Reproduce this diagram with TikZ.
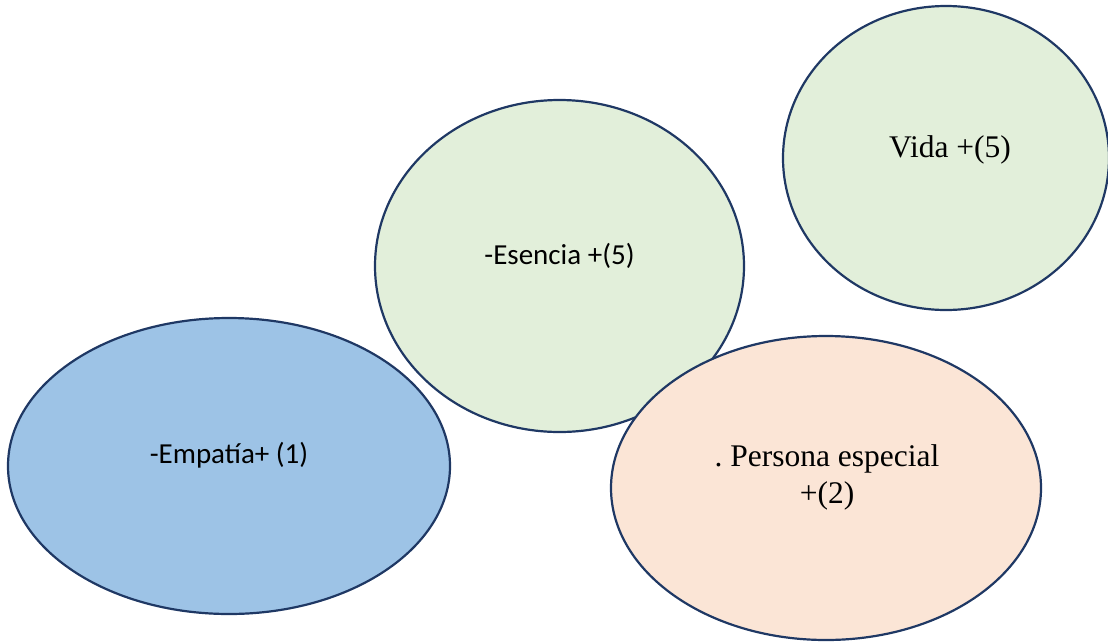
\documentclass[tikz,border=0pt]{standalone}
\usepackage{fontspec}
\setmainfont{Liberation Serif}
\newfontfamily\calibrilike{Carlito}
\usetikzlibrary{shapes.geometric}
\definecolor{rimblue}{HTML}{1F3864}
\definecolor{skyfill}{HTML}{9DC3E6}
\definecolor{leaffill}{HTML}{E2EFDA}
\definecolor{peachfill}{HTML}{FBE5D6}
\tikzset{
  bubble/.style={ellipse, draw=rimblue, line width=2.2pt, inner sep=0pt},
  sanslabel/.style={anchor=base, inner sep=0pt, font=\calibrilike\fontsize{29}{35}\selectfont},
  seriflabel/.style={anchor=base, inner sep=0pt, font=\fontsize{31.5}{38}\selectfont},
}
\begin{document}
\begin{tikzpicture}[x=1pt, y=-1pt]
  \useasboundingbox (0,0) rectangle (1108,643);
  % bubbles, back to front
  \node[bubble, fill=skyfill, minimum width=442pt, minimum height=296pt] (emp) at (229,466) {};
  \node[bubble, fill=leaffill, minimum width=369pt, minimum height=332pt] (ese) at (559.5,266) {};
  \node[bubble, fill=leaffill, minimum width=326pt, minimum height=304pt] (vida) at (946,158) {};
  \node[bubble, fill=peachfill, minimum width=430pt, minimum height=304pt] (pers) at (826,488) {};
  % labels
  \node[sanslabel] (empT) at (229,463) {-Empatía+ (1)};
  \node[sanslabel] (eseT) at (559.5,264) {-Esencia +(5)};
  \node[seriflabel] (vidaT) at (950,157) {Vida +(5)};
  \node[seriflabel] (persT1) at (827,466) {.~Persona especial};
  \node[seriflabel] (persT2) at (827,503) {+(2)};
\end{tikzpicture}
\end{document}
